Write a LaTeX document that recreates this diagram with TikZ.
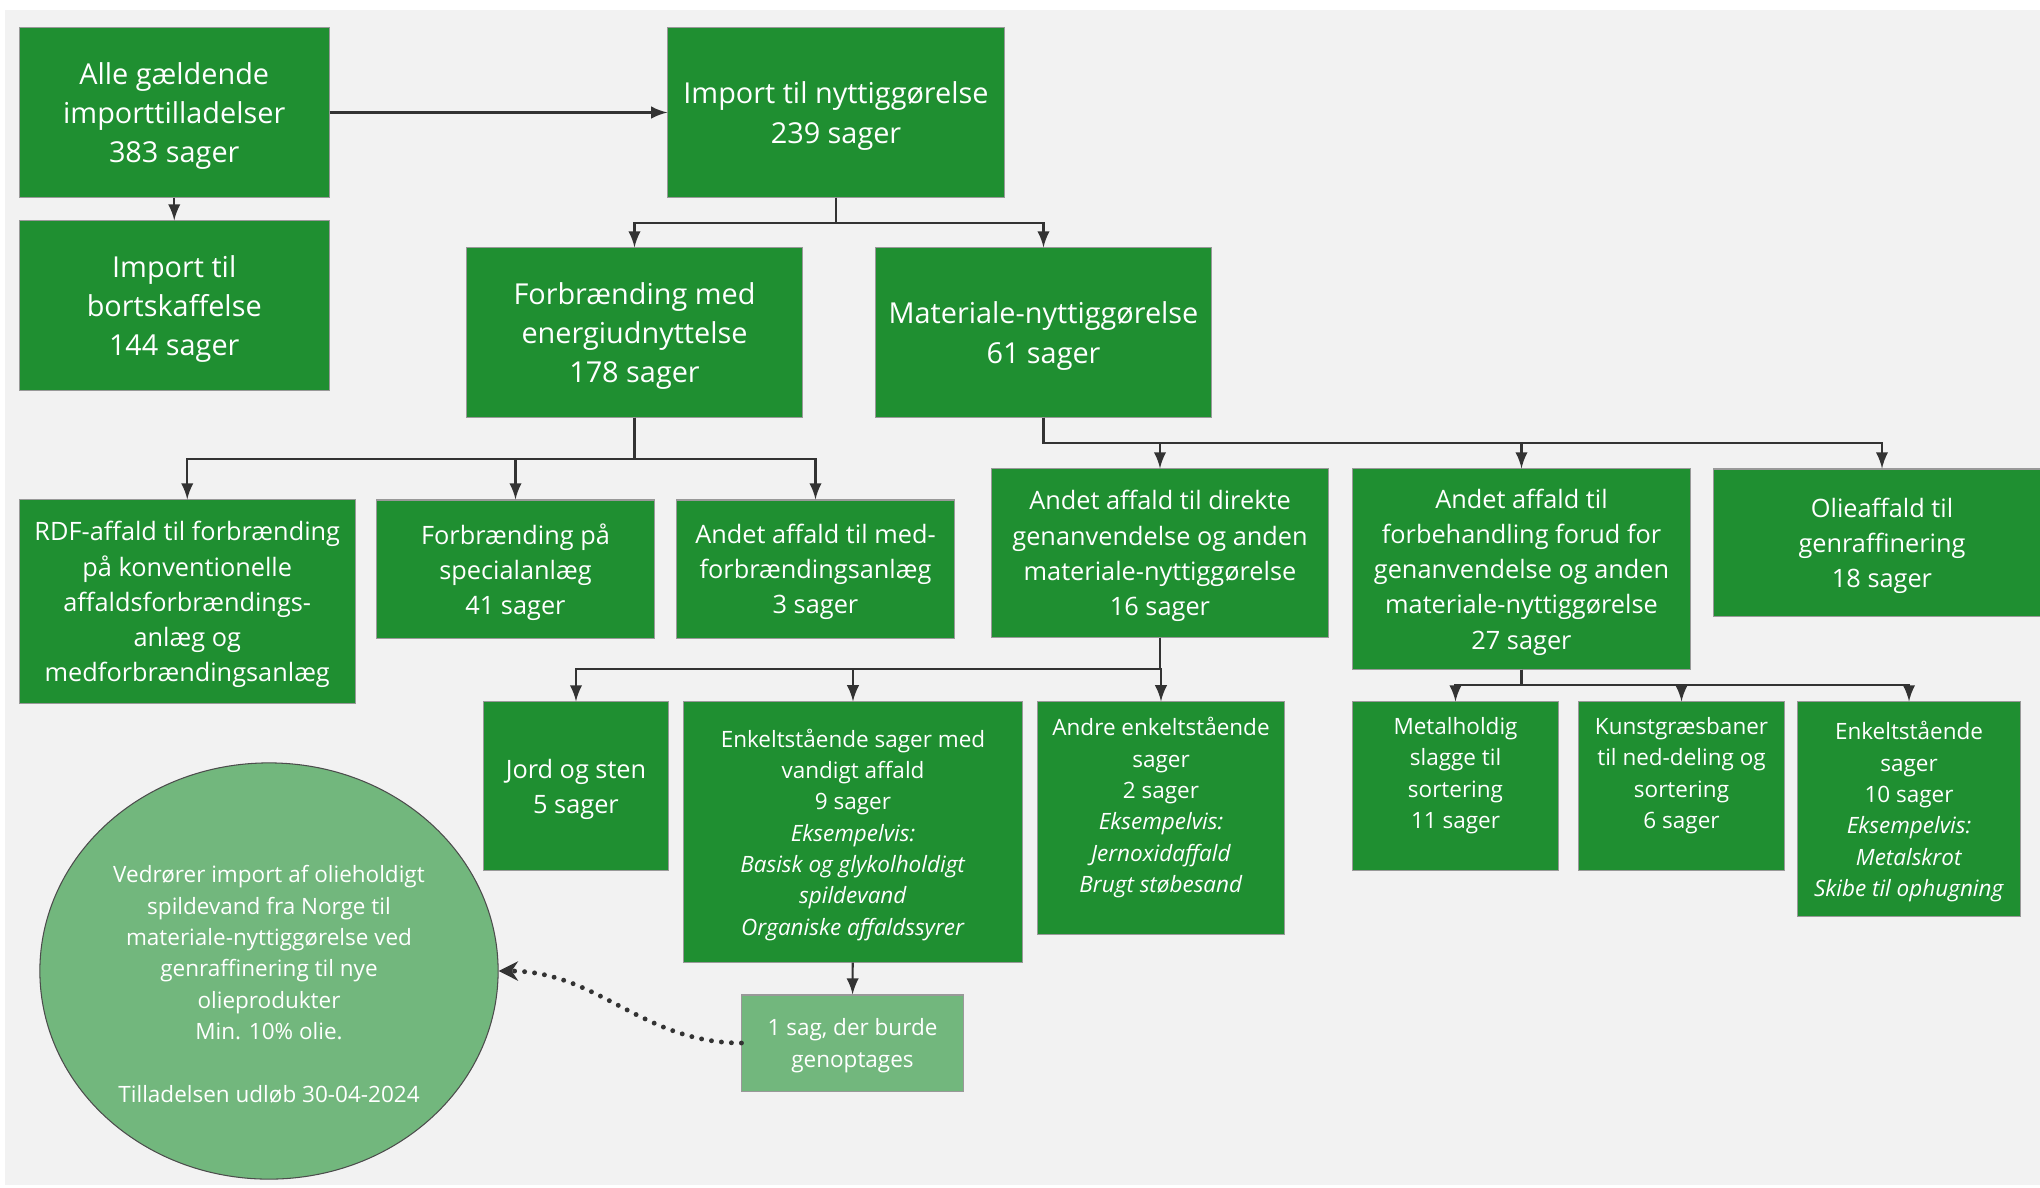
\documentclass[tikz,border=0pt]{standalone}
\usepackage{fontspec}
\setmainfont{Open Sans}
\usetikzlibrary{shapes, calc, arrows, arrows.meta, positioning}
\definecolor{boxgreen}{RGB}{31,143,49}
\definecolor{notegreen}{RGB}{114,183,125}
\definecolor{pagegray}{RGB}{242,242,242}
\definecolor{linegray}{RGB}{51,51,51}

\begin{document}
\begin{tikzpicture}[x=0.01cm, y=-0.01cm, >=latex,
    box/.style={fill=boxgreen, draw=gray!80, line width=0.3pt, text=white, align=center, inner sep=0pt, text depth=0pt},
    bigbox/.style={box, font=\fontsize{8.2}{11.2}\selectfont},
    midbox/.style={box, font=\fontsize{7.2}{10}\selectfont},
    smallbox/.style={box, font=\fontsize{6.4}{8.9}\selectfont},
    link/.style={->, draw=linegray, line width=0.6pt}]
    \useasboundingbox (0,0) rectangle (2040,1187);
    \fill[pagegray] (5,10) rectangle (2040,1185);

    \node[bigbox, minimum width=3.095cm, minimum height=1.69cm] (alle) at (174.25,112.5) {Alle gældende\\importtilladelser\\383 sager};
    \node[bigbox, minimum width=3.36cm, minimum height=1.69cm] (nytte) at (836,112.5) {Import til nyttiggørelse\\239 sager};
    \node[bigbox, minimum width=3.095cm, minimum height=1.69cm] (bort) at (174.25,305.5) {Import til\\bortskaffelse\\144 sager};
    \node[bigbox, minimum width=3.35cm, minimum height=1.69cm] (forbr) at (634.5,332.5) {Forbrænding med\\energiudnyttelse\\178 sager};
    \node[bigbox, minimum width=3.35cm, minimum height=1.69cm] (mat) at (1043.5,332.5) {Materiale-nyttiggørelse\\61 sager};

    \node[midbox, minimum width=3.355cm, minimum height=2.03cm] (rdf) at (187.25,601.5) {RDF-affald til forbrænding\\på konventionelle\\affaldsforbrændings-\\anlæg og\\medforbrændingsanlæg};
    \node[midbox, minimum width=2.77cm, minimum height=1.38cm] (spec) at (515.5,569) {Forbrænding på\\specialanlæg\\41 sager};
    \node[midbox, minimum width=2.77cm, minimum height=1.38cm] (medfor) at (815.5,569) {Andet affald til med-\\forbrændingsanlæg\\3 sager};
    \node[midbox, minimum width=3.36cm, minimum height=1.68cm] (direkte) at (1160,553) {Andet affald til direkte\\genanvendelse og anden\\materiale-nyttiggørelse\\16 sager};
    \node[midbox, minimum width=3.37cm, minimum height=2.0cm] (forbeh) at (1521.5,569) {Andet affald til\\forbehandling forud for\\genanvendelse og anden\\materiale-nyttiggørelse\\27 sager};
    \node[midbox, minimum width=3.36cm, minimum height=1.47cm] (olie) at (1882,542.5) {Olieaffald til\\genraffinering\\18 sager};

    \node[midbox, minimum width=1.84cm, minimum height=1.68cm] (jord) at (576,786) {Jord og sten\\5 sager};
    \node[smallbox, minimum width=3.38cm, minimum height=2.6cm] (vandigt) at (853,832) {Enkeltstående sager med\\vandigt affald\\9 sager\\\textit{Eksempelvis:}\\\textit{Basisk og glykolholdigt}\\\textit{spildevand}\\\textit{Organiske affaldssyrer}};
    \node[smallbox, minimum width=2.46cm, minimum height=2.32cm] (andre) at (1161,818) {Andre enkeltstående\\sager\\2 sager\\\textit{Eksempelvis:}\\\textit{Jernoxidaffald}\\\textit{Brugt støbesand}\\[-1.5pt]};
    \node[smallbox, minimum width=2.05cm, minimum height=1.68cm] (metal) at (1455.5,786) {Metalholdig\\slagge til\\sortering\\11 sager\\[-1.5pt]};
    \node[smallbox, minimum width=2.05cm, minimum height=1.68cm] (kunst) at (1681.5,786) {Kunstgræsbaner\\til ned-deling og\\sortering\\6 sager\\[-1.5pt]};
    \node[smallbox, minimum width=2.22cm, minimum height=2.14cm] (enkelt) at (1909,809) {Enkeltstående\\sager\\10 sager\\\textit{Eksempelvis:}\\\textit{Metalskrot}\\\textit{Skibe til ophugning}};

    \node[smallbox, fill=notegreen, minimum width=2.21cm, minimum height=0.96cm] (sag) at (852.5,1043) {1 sag, der burde\\genoptages};
    \node[smallbox, ellipse, fill=notegreen, draw=gray!60!black, minimum width=4.58cm, minimum height=4.16cm] (note) at (269,971) {\mbox{}\\[3.3pt]Vedrører import af olieholdigt\\spildevand fra Norge til\\materiale-nyttiggørelse ved\\genraffinering til nye\\olieprodukter\\Min. 10\% olie.\\[8.9pt]Tilladelsen udløb 30-04-2024};

    \draw[link] (alle) -- (nytte);
    \draw[link] (alle) -- (bort);
    \foreach \c in {forbr, mat} \draw[link] (nytte.south) -- ++(0,25) -| (\c.north);
    \foreach \c in {rdf, spec, medfor} \draw[link] (forbr.south) -- ++(0,41) -| (\c.north);
    \foreach \c in {direkte, forbeh, olie} \draw[link] (mat.south) -- ++(0,25) -| (\c.north);
    \foreach \c in {jord, vandigt, andre} \draw[link] (direkte.south) -- ++(0,31) -| (\c.north);
    \foreach \c in {metal, kunst, enkelt} \draw[link] (forbeh.south) -- ++(0,15) -| (\c.north);
    \draw[link] (vandigt) -- (sag);
    \draw[-{Stealth[length=5.5pt, width=5.5pt]}, draw=linegray, line width=1.4pt, dash pattern=on 0pt off 2.85pt, line cap=round] (sag.west) to[out=180, in=0] (note.east);
\end{tikzpicture}
\end{document}
